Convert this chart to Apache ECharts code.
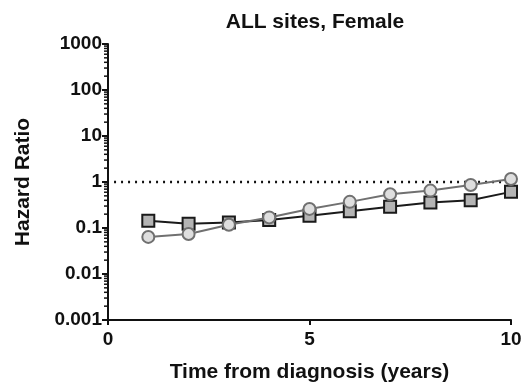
<!DOCTYPE html>
<html>
<head>
<meta charset="utf-8">
<script src="https://cdn.jsdelivr.net/npm/echarts@6/dist/echarts.min.js"></script>
<style>
  html, body { margin: 0; padding: 0; background: #fff; }
  #chart { width: 527px; height: 388px; }
</style>
</head>
<body>
<div id="chart"></div>
<script>
const years = [1, 2, 3, 4, 5, 6, 7, 8, 9, 10]
const squareHR = [0.144, 0.124, 0.132, 0.15, 0.185, 0.23, 0.29, 0.36, 0.40, 0.61]
const circleHR = [0.064, 0.074, 0.118, 0.17, 0.26, 0.37, 0.54, 0.65, 0.86, 1.16]
const refLine = [[0.15, 1], [10, 1]]

// log-spaced minor ticks on the y axis
const minorTicks = []
for (let k = -3; k < 3; k++) {
  for (let m = 2; m <= 9; m++) {
    minorTicks.push([0, m * Math.pow(10, k)])
  }
}

const font = 'Arial, "Liberation Sans", sans-serif'
const chart = echarts.init(document.getElementById('chart'))

chart.setOption({
  animation: false,
  textStyle: { fontFamily: font },
  title: {
    text: 'ALL sites, Female',
    left: 310,
    textAlign: 'center',
    top: 7,
    textStyle: { fontSize: 21, fontWeight: 'bold', color: '#111', fontFamily: font }
  },
  grid: { left: 108, right: 16, top: 44, bottom: 67 },
  xAxis: {
    type: 'value',
    min: 0,
    max: 10,
    interval: 5,
    name: 'Time from diagnosis (years)',
    nameLocation: 'middle',
    nameGap: 42,
    nameTextStyle: { fontSize: 21, fontWeight: 'bold', color: '#111', fontFamily: font },
    axisLine: { lineStyle: { color: '#111', width: 2 } },
    axisTick: { length: 5, lineStyle: { color: '#111', width: 2 } },
    axisLabel: { fontSize: 19, fontWeight: 'bold', color: '#111', margin: 10 },
    splitLine: { show: false }
  },
  yAxis: {
    type: 'log',
    logBase: 10,
    min: 0.001,
    max: 1000,
    name: 'Hazard Ratio',
    nameLocation: 'middle',
    nameGap: 74,
    nameTextStyle: { fontSize: 21, fontWeight: 'bold', color: '#111', fontFamily: font },
    axisLine: { show: true, lineStyle: { color: '#111', width: 2 } },
    axisTick: { show: true, length: 6, lineStyle: { color: '#111', width: 2 } },
    axisLabel: {
      fontSize: 19, fontWeight: 'bold', color: '#111', margin: 6,
      formatter: v => String(+v.toPrecision(3))
    },
    splitLine: { show: false }
  },
  series: [
    {
      type: 'custom',
      silent: true,
      data: minorTicks,
      renderItem: (params, api) => {
        const p = api.coord([api.value(0), api.value(1)])
        return {
          type: 'line',
          shape: { x1: p[0] - 4, y1: p[1], x2: p[0], y2: p[1] },
          style: { stroke: '#111', lineWidth: 1.5 }
        }
      },
      z: 1
    },
    {
      type: 'line',
      data: refLine,
      symbol: 'none',
      lineStyle: { color: '#111', width: 2.5, type: [2, 5] },
      z: 2
    },
    {
      type: 'line',
      data: years.map((x, i) => [x, squareHR[i]]),
      symbol: 'rect',
      symbolSize: 12,
      lineStyle: { color: '#1a1a1a', width: 2 },
      itemStyle: { color: '#b4b4b4', borderColor: '#1a1a1a', borderWidth: 2 },
      z: 3
    },
    {
      type: 'line',
      data: years.map((x, i) => [x, circleHR[i]]),
      symbol: 'circle',
      symbolSize: 12,
      lineStyle: { color: '#707070', width: 2 },
      itemStyle: { color: '#dedede', borderColor: '#707070', borderWidth: 2 },
      z: 4
    }
  ]
})
</script>
</body>
</html>
